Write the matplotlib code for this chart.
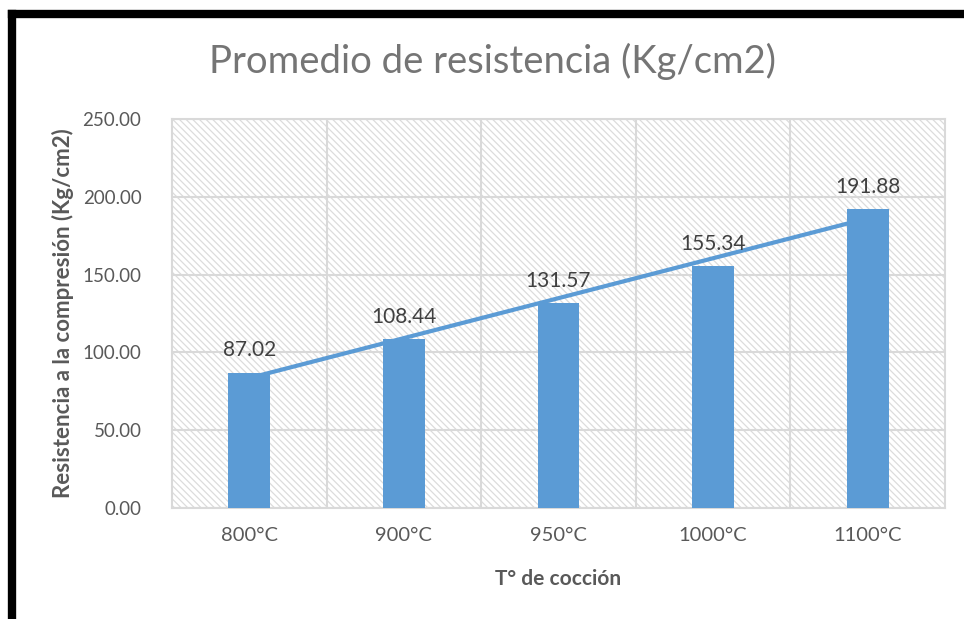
import numpy as np
import matplotlib
matplotlib.use("Agg")
import matplotlib.pyplot as plt
from matplotlib.patches import Rectangle
from matplotlib.lines import Line2D

temperatures = ["800°C", "900°C", "950°C", "1000°C", "1100°C"]
resistencia = [87.02, 108.44, 131.57, 155.34, 191.88]
y_ticks = [0, 50, 100, 150, 200, 250]

plt.rcParams["font.family"] = ["Lato", "DejaVu Sans"]
plt.rcParams["hatch.linewidth"] = 0.9
plt.rcParams["hatch.color"] = "#dcdcdc"

bar_color = "#5B9BD5"
grid_color = "#d9d9d9"
text_color = "#595959"

fig = plt.figure(figsize=(9.64, 6.19), dpi=100)
ax = fig.add_axes([0.1784, 0.1793, 0.8019, 0.6285])

x = np.arange(len(temperatures))

# hatched plot area background
bg = Rectangle((0, 0), 1, 1, transform=ax.transAxes, facecolor="white",
               edgecolor="#dcdcdc", hatch="\\" * 5, linewidth=0, zorder=0)
ax.add_patch(bg)

ax.bar(x, resistencia, width=0.27, color=bar_color, zorder=3)

# linear trendline
coef = np.polyfit(x, resistencia, 1)
trend = np.polyval(coef, x[[0, -1]])
ax.plot(x[[0, -1]], trend, color=bar_color, linewidth=3, zorder=4,
        solid_capstyle="butt")

for xi, v in zip(x, resistencia):
    ax.text(xi, v + 8, f"{v:.2f}", ha="center", va="bottom",
            fontsize=15, color="#404040", zorder=5)

ax.set_xlim(-0.5, len(temperatures) - 0.5)
ax.set_ylim(0, 250)
ax.set_yticks(y_ticks)
ax.set_yticklabels([f"{t:.2f}" for t in y_ticks])
ax.set_xticks(x)
ax.set_xticklabels(temperatures)
ax.tick_params(axis="both", length=0, labelcolor=text_color)
ax.tick_params(axis="y", labelsize=13.5, pad=22)
ax.tick_params(axis="x", labelsize=14.5, pad=14)

# horizontal gridlines and category separators
ax.grid(axis="y", color=grid_color, linewidth=1.5, zorder=1)
for b in np.arange(0.5, len(temperatures) - 0.5, 1):
    ax.axvline(b, color=grid_color, linewidth=1.5, zorder=1)
ax.set_axisbelow(True)
for s in ax.spines.values():
    s.set_color(grid_color)
    s.set_linewidth(1.5)

ax.set_xlabel("T° de cocción", fontsize=15, fontweight="bold",
              color=text_color, labelpad=18)
ax.set_ylabel("Resistencia a la compresión (Kg/cm2)", fontsize=16,
              fontweight="bold", color=text_color, labelpad=6)

fig.text(0.511, 0.9, "Promedio de resistencia (Kg/cm2)", ha="center",
         va="center", fontsize=27.5, color="#757575")

# black frame on the left and top edges
fig.add_artist(Line2D([0.0124, 0.0124], [0, 0.978], color="black",
                      linewidth=6, transform=fig.transFigure,
                      solid_capstyle="projecting"))
fig.add_artist(Line2D([0.0124, 1.0], [0.978, 0.978], color="black",
                      linewidth=6, transform=fig.transFigure,
                      solid_capstyle="projecting"))

fig.savefig("out.png", dpi=100, facecolor="white")
